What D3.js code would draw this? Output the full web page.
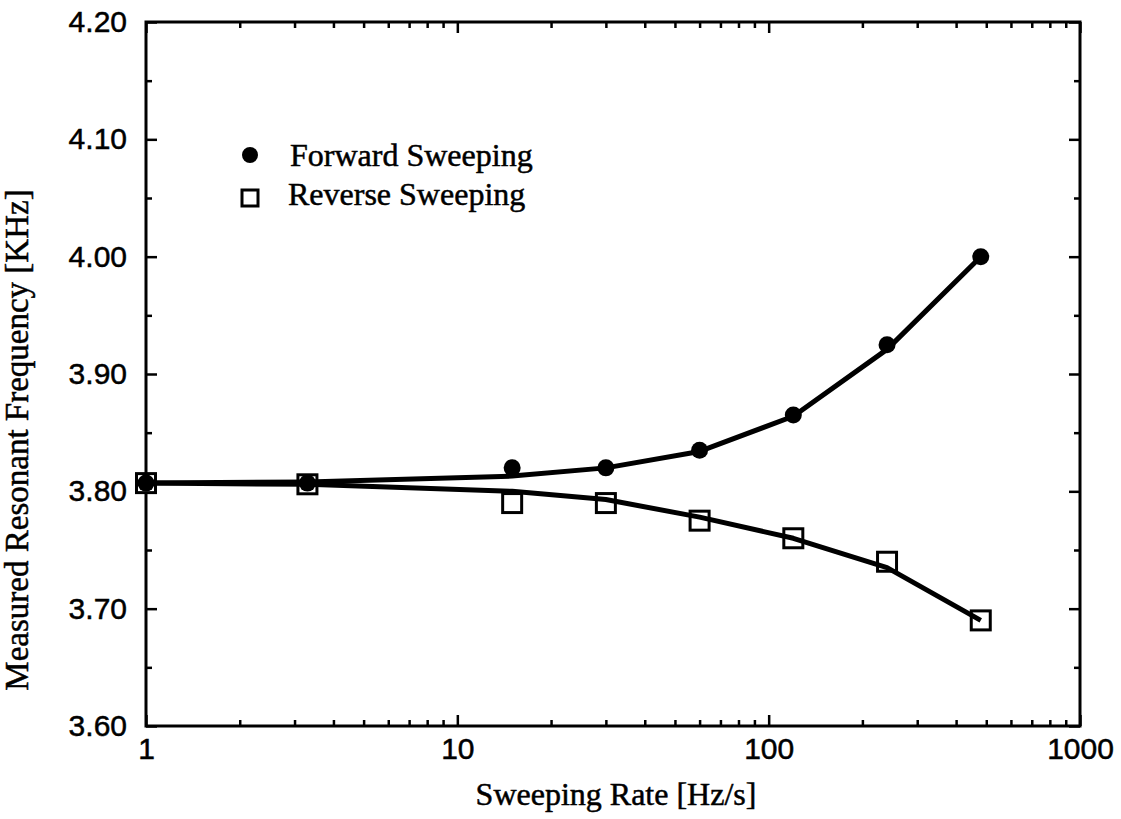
<!DOCTYPE html>
<html>
<head>
<meta charset="utf-8">
<script src="https://d3js.org/d3.v7.min.js"></script>
<style>
    body { margin: 0; background: white; }
    .tick text { font-family: "Liberation Sans", Arial, sans-serif; font-size: 30px; fill: black; stroke: black; stroke-width: 0.5px; }
    .title { font-family: "Liberation Serif", "Times New Roman", serif; font-size: 32px; fill: black; stroke: black; stroke-width: 0.5px; }
</style>
</head>
<body>
<div id="chart"></div>
<script>
// sweeping rates [Hz/s]
const rates = [1, 3.3, 15, 30, 60, 120, 240, 480];
// measured resonant frequency [KHz]
const forward = [3.807, 3.807, 3.820, 3.820, 3.835, 3.865, 3.925, 4.000];
const reverse = [3.807, 3.806, 3.790, 3.790, 3.775, 3.760, 3.740, 3.690];
// fitted curves drawn through the points
const forwardFit = [3.807, 3.808, 3.813, 3.820, 3.834, 3.864, 3.921, 4.000];
const reverseFit = [3.807, 3.806, 3.800, 3.793, 3.778, 3.760, 3.735, 3.690];

const xMajor = [1, 10, 100, 1000];
const yMajor = [3.6, 3.7, 3.8, 3.9, 4.0, 4.1, 4.2];

const width = 1121, height = 819;
const margin = { left: 146, right: 41, top: 22, bottom: 93 };
const plotW = width - margin.left - margin.right;
const plotH = height - margin.top - margin.bottom;

const svg = d3.select("#chart").append("svg")
    .attr("width", width)
    .attr("height", height)
    .style("background-color", "white");

const g = svg.append("g")
    .attr("transform", "translate(" + margin.left + ", " + margin.top + ")");

const x = d3.scaleLog().domain([1, 1000]).range([0, plotW]);
const y = d3.scaleLinear().domain([3.6, 4.2]).range([plotH, 0]);

let xMinor = [];
for (let d = 1; d < 1000; d *= 10)
    for (let k = 2; k <= 9; k++) xMinor.push(d * k);
let yMinor = d3.range(3.65, 4.2, 0.1);

function styleAxis(sel) {
    sel.select(".domain").remove();
    sel.selectAll(".tick line").attr("stroke", "black").attr("stroke-width", 2.5);
}

// major ticks with labels, pointing inward
g.append("g").attr("transform", "translate(0, " + plotH + ")")
    .call(d3.axisBottom(x).tickValues(xMajor).tickFormat(d3.format("d")).tickSize(-11).tickPadding(12))
    .call(styleAxis);
g.append("g")
    .call(d3.axisLeft(y).tickValues(yMajor).tickFormat(d3.format(".2f")).tickSize(-11).tickPadding(19))
    .call(styleAxis);
g.append("g")
    .call(d3.axisTop(x).tickValues(xMajor).tickFormat("").tickSize(-11))
    .call(styleAxis);
g.append("g").attr("transform", "translate(" + plotW + ", 0)")
    .call(d3.axisRight(y).tickValues(yMajor).tickFormat("").tickSize(-11))
    .call(styleAxis);

// minor ticks
g.append("g").attr("transform", "translate(0, " + plotH + ")")
    .call(d3.axisBottom(x).tickValues(xMinor).tickFormat("").tickSize(-6))
    .call(styleAxis);
g.append("g")
    .call(d3.axisTop(x).tickValues(xMinor).tickFormat("").tickSize(-6))
    .call(styleAxis);
g.append("g")
    .call(d3.axisLeft(y).tickValues(yMinor).tickFormat("").tickSize(-6))
    .call(styleAxis);
g.append("g").attr("transform", "translate(" + plotW + ", 0)")
    .call(d3.axisRight(y).tickValues(yMinor).tickFormat("").tickSize(-6))
    .call(styleAxis);

// frame
g.append("rect")
    .attr("width", plotW)
    .attr("height", plotH)
    .attr("fill", "none")
    .attr("stroke", "black")
    .attr("stroke-width", 3);

const sq = 19;

// reverse sweeping markers (open squares)
g.selectAll(".revMark")
    .data(rates)
    .enter()
        .append("rect")
        .attr("class", "revMark")
        .attr("x", (d) => x(d) - sq / 2)
        .attr("y", (d, i) => y(reverse[i]) - sq / 2)
        .attr("width", sq)
        .attr("height", sq)
        .attr("fill", "white")
        .attr("stroke", "black")
        .attr("stroke-width", 3);

// fit lines
const line = d3.line();
[forwardFit, reverseFit].forEach(function(vals) {
    g.append("path")
        .attr("d", line(rates.map((d, i) => [x(d), y(vals[i])])))
        .attr("fill", "none")
        .attr("stroke", "black")
        .attr("stroke-width", 5)
        .attr("stroke-linejoin", "round");
});

// forward sweeping markers (filled circles)
g.selectAll(".fwdMark")
    .data(rates)
    .enter()
        .append("circle")
        .attr("class", "fwdMark")
        .attr("cx", (d) => x(d))
        .attr("cy", (d, i) => y(forward[i]))
        .attr("r", 8.5)
        .attr("fill", "black");

// legend
const legend = svg.append("g");
legend.append("circle").attr("cx", 250).attr("cy", 155).attr("r", 8).attr("fill", "black");
legend.append("text").attr("class", "title").attr("x", 290).attr("y", 166).text("Forward Sweeping");
legend.append("rect").attr("x", 242).attr("y", 190).attr("width", 16).attr("height", 16)
    .attr("fill", "white").attr("stroke", "black").attr("stroke-width", 3);
legend.append("text").attr("class", "title").attr("x", 288).attr("y", 205).text("Reverse Sweeping");

// axis titles
svg.append("text")
    .attr("class", "title")
    .attr("x", 616)
    .attr("y", 805)
    .attr("text-anchor", "middle")
    .text("Sweeping Rate [Hz/s]");

svg.append("text")
    .attr("class", "title")
    .attr("transform", "translate(28, 440) rotate(-90)")
    .attr("text-anchor", "middle")
    .style("font-size", "33px")
    .text("Measured Resonant Frequency [KHz]");
</script>
</body>
</html>
